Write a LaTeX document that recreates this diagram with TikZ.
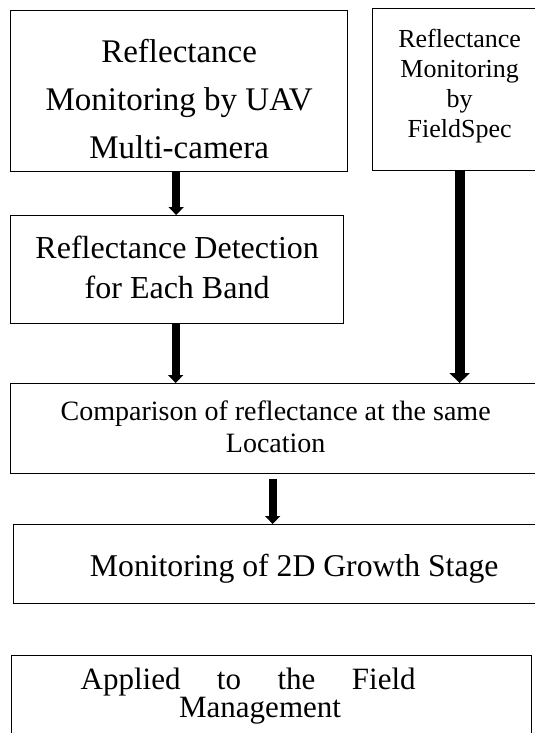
\documentclass[tikz,border=0pt]{standalone}
\usepackage{fontspec}
\setmainfont{Liberation Serif}
\usetikzlibrary{arrows.meta}

\tikzset{
  stepbox/.style={draw, rectangle, line width=1.3pt, anchor=north west,
    inner sep=0pt, align=center},
  flow/.style={line width=8pt, -{Triangle[width=15pt,length=8pt]}},
}

\begin{document}
\begin{tikzpicture}[x=1pt,y=-1pt]
  \useasboundingbox (0,0) rectangle (535,733);
  \clip (0,0) rectangle (535,733);

  \node[stepbox, minimum width=337pt, minimum height=161pt,
        font=\fontsize{33}{48}\selectfont, text height=135pt, text depth=0pt]
        (uav) at (10,10) {Reflectance\\Monitoring by UAV\\Multi-camera};

  \node[stepbox, minimum width=174pt, minimum height=162pt,
        font=\fontsize{26}{30}\selectfont, text height=102pt, text depth=6pt]
        (spec) at (372,8) {Reflectance\\Monitoring\\by\\FieldSpec};

  \node[stepbox, minimum width=333pt, minimum height=108pt,
        font=\fontsize{32}{40}\selectfont, text height=62pt, text depth=4pt]
        (band) at (10,215) {Reflectance Detection\\for Each Band};

  \node[stepbox, minimum width=530pt, minimum height=90pt,
        font=\fontsize{28}{32}\selectfont, text height=49pt, text depth=1pt]
        (cmp) at (10,383) {Comparison of reflectance at the same\\Location};

  \node[stepbox, minimum width=528pt, minimum height=79pt,
        font=\fontsize{31.7}{36}\selectfont, text height=25pt, text depth=1pt]
        (growth) at (12.6,524) {\hspace*{34pt}Monitoring of 2D Growth Stage};

  \node[stepbox, minimum width=520pt, minimum height=100pt,
        font=\fontsize{31}{28}\selectfont, text height=30pt, text depth=6pt]
        (field) at (11,655)
        {\makebox[382pt][l]{\makebox[335pt][s]{Applied to the Field}}\\
         \makebox[185pt][l]{Management}};

  % arrows
  \draw[flow] ([xshift=-3pt]uav.south) -- ([xshift=-3pt]uav.south |- band.north);
  \draw[flow] ([xshift=-1.5pt]band.south) -- ([xshift=-1.5pt]band.south |- cmp.north);
  \draw[flow, line width=10pt, -{Triangle[width=20pt,length=10pt]}]
        (spec.south) -- (spec.south |- cmp.north);
  \draw[flow] ([xshift=-3pt,yshift=-5pt]cmp.south) -- ([xshift=-3pt]cmp.south |- growth.north);
\end{tikzpicture}
\end{document}
